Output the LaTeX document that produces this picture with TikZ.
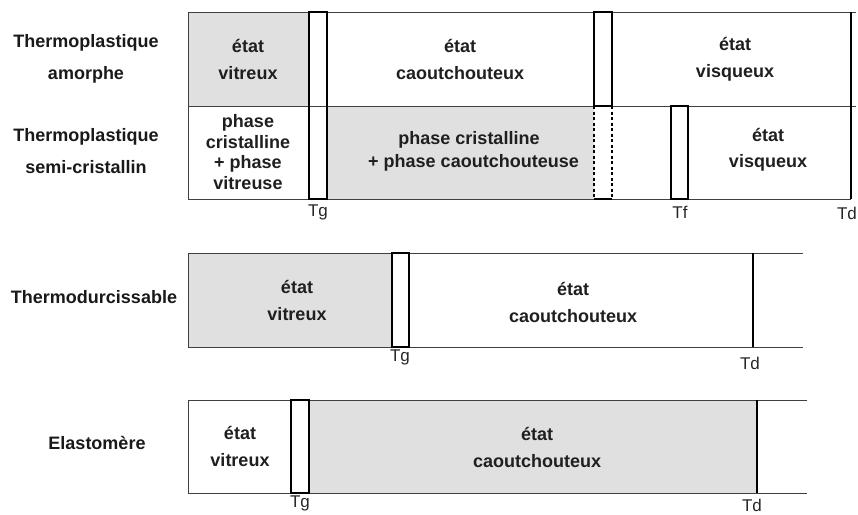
\documentclass[tikz,border=0pt]{standalone}
\usepackage{fontspec}
\setmainfont{Liberation Sans}
\begin{document}
\begin{tikzpicture}[x=1pt,y=-1pt,
  lbl/.style={font=\fontsize{18}{32}\selectfont\bfseries, text=black!90, align=center, inner sep=0pt},
  txt/.style={font=\fontsize{18}{27}\selectfont\bfseries, text=black!88, align=center, inner sep=0pt},
  txtt/.style={font=\fontsize{18}{20.5}\selectfont\bfseries, text=black!88, align=center, inner sep=0pt},
  tlab/.style={font=\fontsize{17}{18}\selectfont, text=black!85, inner sep=0pt},
  thin/.style={draw=black!75, line width=0.9pt},
  trans/.style={draw=black, line width=1.8pt},
  shade/.style={fill=black!12}]
\useasboundingbox (0,0) rectangle (858,514);

% ---------- Thermoplastiques ----------
\fill[shade] (188,12) rectangle (309,106);
\fill[shade] (327,106) rectangle (594,199);
\draw[thin] (856,12) -- (188,12) -- (188,199) -- (851,199);
\draw[thin] (188,106) -- (856,106);
\draw[trans] (309,12) rectangle (327,199);
\draw[trans] (594,106) -- (594,12) -- (612,12) -- (612,106) -- cycle;
\draw[trans,dashed,dash pattern=on 3pt off 2.5pt] (594,106) -- (594,199);
\draw[trans,dashed,dash pattern=on 3pt off 2.5pt] (612,106) -- (612,199);
\draw[trans] (594,199) -- (612,199);
\draw[trans] (671,106) rectangle (688,199);
\draw[trans] (851,12) -- (851,199);

\node[lbl] (tpa) at (86,59) {Thermoplastique\\amorphe};
\node[lbl] (tps) at (86,151) {Thermoplastique\\semi-cristallin};
\node[txt] (a1) at (248,59) {état\\vitreux};
\node[txt] (a2) at (460,59) {état\\caoutchouteux};
\node[txt] (a3) at (735,59) {état\\visqueux};
\node[txtt] (s1) at (248,152) {phase\\cristalline\\+ phase\\vitreuse};
\node[txt, font=\fontsize{18}{23}\selectfont\bfseries] (s2) at (469,151) {phase cristalline\\\hspace*{0.5em}+ phase caoutchouteuse};
\node[txt, font=\fontsize{18}{26}\selectfont\bfseries] (s3) at (768,150) {état\\visqueux};
\node[tlab] (tg1) at (318,212) {Tg};
\node[tlab] (tf1) at (680,212) {Tf};
\node[tlab] (td1) at (847,213) {Td};

% ---------- Thermodurcissable ----------
\fill[shade] (188,253) rectangle (392,347);
\draw[thin] (803,253) -- (188,253) -- (188,347) -- (803,347);
\draw[trans] (392,253) rectangle (409,347);
\draw[trans] (753,253) -- (753,347);
\node[lbl] (td) at (94,297) {Thermodurcissable};
\node[txt] (d1) at (297,300) {état\\vitreux};
\node[txt] (d2) at (573,302) {état\\caoutchouteux};
\node[tlab] (tg2) at (400,357) {Tg};
\node[tlab] (td2) at (750,363) {Td};

% ---------- Elastomere ----------
\fill[shade] (309,400) rectangle (757,493);
\draw[thin] (807,400) -- (188,400) -- (188,493) -- (807,493);
\draw[trans] (291,400) rectangle (309,493);
\draw[trans] (757,400) -- (757,493);
\node[lbl] (el) at (97,443) {Elastomère};
\node[txt] (e1) at (240,446) {état\\vitreux};
\node[txt] (e2) at (537,447) {état\\caoutchouteux};
\node[tlab] (tg3) at (300,503) {Tg};
\node[tlab] (td3) at (752,505) {Td};
\end{tikzpicture}
\end{document}
